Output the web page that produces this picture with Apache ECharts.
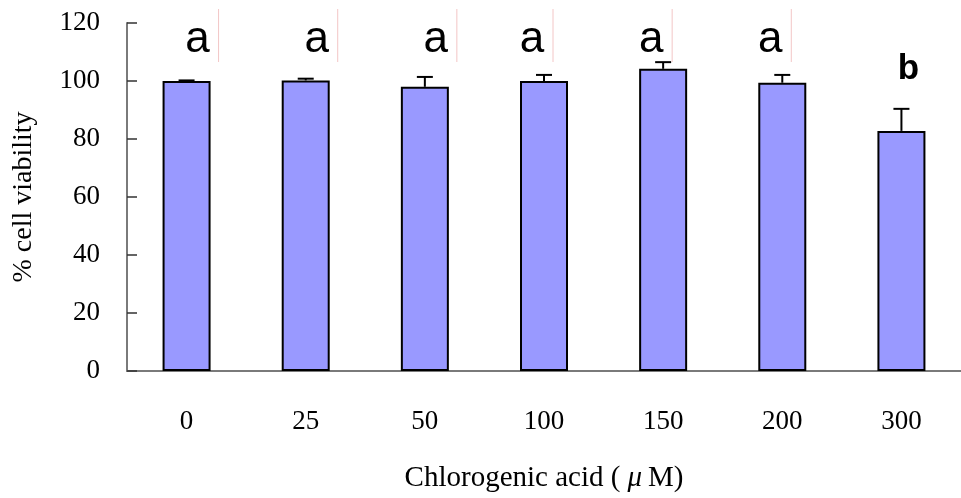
<!DOCTYPE html>
<html>
<head>
<meta charset="utf-8">
<script src="https://cdn.jsdelivr.net/npm/echarts@6/dist/echarts.min.js"></script>
<style>
  html, body { margin: 0; padding: 0; background: #fff; }
  #chart { width: 961px; height: 498px; }
</style>
</head>
<body>
<div id="chart"></div>
<script>
// Cell viability after chlorogenic acid treatment
const doses = ['0', '25', '50', '100', '150', '200', '300'];
const viability = [100, 100.2, 98, 100, 104.2, 99.4, 82.8];
const errors = [0.2, 0.6, 3.4, 2.1, 2.3, 2.7, 7.6];
const groups = ['a', 'a', 'a', 'a', 'a', 'a', 'b'];
const yTicks = [0, 20, 40, 60, 80, 100, 120];

const chart = echarts.init(document.getElementById('chart'));

// horizontal nudge of each group letter relative to its bar
const letterShift = [11, 11, 11, -12, -12, -12, 7];
const serif = 'Liberation Serif';

chart.setOption({
  animation: false,
  backgroundColor: '#ffffff',
  grid: { left: 127, right: -6, top: 23, bottom: 126, containLabel: false },
  xAxis: {
    type: 'category',
    data: doses,
    name: '{t|Chlorogenic acid (}{mu|\u03BC}{t|M)}',
    nameLocation: 'middle',
    nameGap: 93,
    nameTextStyle: {
      rich: {
        t: { fontFamily: serif, fontSize: 29, color: '#000' },
        mu: { fontFamily: serif, fontStyle: 'italic', fontSize: 29, color: '#000', padding: [0, 6, 0, 7] }
      }
    },
    axisLine: { lineStyle: { color: '#7a7a7a', width: 2 } },
    axisTick: { inside: true, length: 10, lineStyle: { color: '#333', width: 1.5 } },
    axisLabel: { margin: 37, fontFamily: serif, fontSize: 27, color: '#000' }
  },
  yAxis: {
    type: 'value',
    min: yTicks[0],
    max: yTicks[yTicks.length - 1],
    interval: 20,
    name: '% cell viability',
    nameLocation: 'middle',
    nameGap: 89,
    nameRotate: 90,
    nameTextStyle: { fontFamily: serif, fontSize: 28, color: '#000' },
    axisLine: { show: true, lineStyle: { color: '#7a7a7a', width: 2 } },
    axisTick: { show: true, inside: true, length: 10, lineStyle: { color: '#333', width: 1.5 } },
    splitLine: { show: false },
    axisLabel: { margin: 27, fontFamily: serif, fontSize: 27, color: '#000' }
  },
  series: [
    {
      type: 'bar',
      data: viability,
      barWidth: 48,
      itemStyle: { color: '#9999ff', borderColor: '#000', borderWidth: 2 },
      z: 2
    },
    {
      // upper error bars
      type: 'custom',
      data: viability.map((v, i) => [i, v, errors[i]]),
      z: 3,
      renderItem: function (params, api) {
        const i = api.value(0);
        const v = api.value(1);
        const e = api.value(2);
        const base = api.coord([i, v]);
        const top = api.coord([i, v + e]);
        const half = 8;
        return {
          type: 'group',
          children: [
            { type: 'line', shape: { x1: base[0], y1: base[1], x2: top[0], y2: top[1] },
              style: { stroke: '#000', lineWidth: 2 } },
            { type: 'line', shape: { x1: top[0] - half, y1: top[1], x2: top[0] + half, y2: top[1] },
              style: { stroke: '#000', lineWidth: 2 } }
          ]
        };
      }
    },
    {
      // significance letters
      type: 'custom',
      data: groups.map((g, i) => [i, viability[i] + errors[i]]),
      z: 4,
      renderItem: function (params, api) {
        const i = api.value(0);
        const g = groups[i];
        const isA = g === 'a';
        const p = api.coord([i, isA ? 114.3 : 103.9]);
        const cx = p[0] + letterShift[i];
        const children = [{
          type: 'text',
          style: {
            text: g, x: cx, y: p[1],
            align: 'center', verticalAlign: 'middle',
            fill: '#000',
            font: isA ? '44px "Liberation Sans"' : 'bold 35px "Liberation Sans"'
          }
        }];
        if (isA) {
          children.push({
            type: 'line',
            shape: { x1: cx + 21, y1: 9, x2: cx + 21, y2: 62 },
            style: { stroke: '#f3c6c6', lineWidth: 1 }
          });
        }
        return { type: 'group', children: children };
      }
    }
  ]
});
</script>
</body>
</html>
